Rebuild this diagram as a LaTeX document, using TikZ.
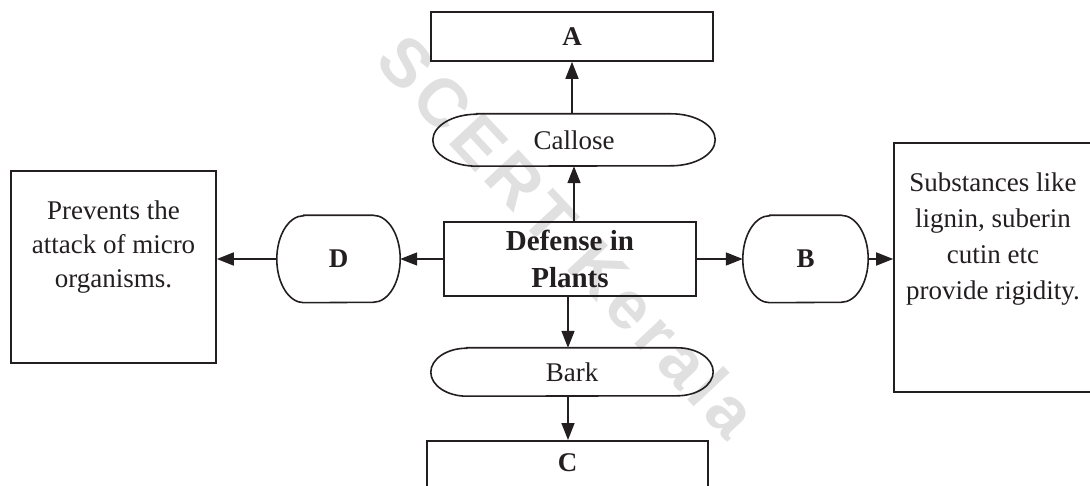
\documentclass[tikz,border=0pt]{standalone}
\usepackage{fontspec}
\setmainfont{Liberation Serif}
\setsansfont{Liberation Sans}
\newfontfamily\wmfont[LetterSpace=9]{Liberation Sans}
\usetikzlibrary{arrows.meta,calc}
\definecolor{ink}{HTML}{231F20}
\newcommand\stadiumpath[3]{%
  \draw[line] ([xshift=#2]#1.north west) -- ([xshift=-#2]#1.north east)
    arc[start angle=90,end angle=-90,x radius=#2,y radius=#3]
    -- ([xshift=#2]#1.south west)
    arc[start angle=270,end angle=90,x radius=#2,y radius=#3] -- cycle;}
\begin{document}
\begin{tikzpicture}[x=1pt,y=-1pt,
  line/.style={draw=ink,line width=1.6pt},
  box/.style={line,rectangle,inner sep=0pt},
  plain/.style={rectangle,inner sep=0pt,text=ink},
  lab/.style={inner sep=0pt,text=ink,align=center,font=\fontsize{27}{34}\selectfont},
  arr/.style={line,-{Triangle[length=17pt,width=13pt]}}]
\useasboundingbox (0,0) rectangle (1090,486);
% watermark
\node[rotate=-47,inner sep=0pt,text=black!12,font=\fontsize{68}{68}\selectfont\wmfont\bfseries] (wm) at (568,236) {SCERT Kerala};
% top
\node[box,minimum width=282pt,minimum height=49pt,lab,font=\fontsize{27}{34}\selectfont\bfseries] (A) at (572,36.5) {A};
\node[plain,lab,minimum width=282pt,minimum height=52pt] (cal) at (574,140) {Callose};
\stadiumpath{cal}{44pt}{26pt}
% center
\node[box,lab,minimum width=252pt,minimum height=74pt,font=\fontsize{29}{37}\selectfont\bfseries] (def) at (570,259) {Defense in\\Plants};
% sides
\node[plain,lab,minimum width=123pt,minimum height=87pt,font=\fontsize{27}{34}\selectfont\bfseries] (D) at (338.5,259) {D};
\stadiumpath{D}{27pt}{43.5pt}
\node[plain,lab,minimum width=125pt,minimum height=87pt,font=\fontsize{27}{34}\selectfont\bfseries] (B) at (805.5,259) {B};
\stadiumpath{B}{27pt}{43.5pt}
\node[box,minimum width=205pt,minimum height=192pt] (L) at (113.5,267) {};
\node[lab] (Lt) at (113.5,247) {Prevents the\\attack of micro\\organisms.};
\node[box,minimum width=200pt,minimum height=249pt] (R) at (994,267.5) {};
\node[lab,font=\fontsize{27}{36}\selectfont] (Rt) at (993,239) {Substances like\\lignin, suberin\\cutin etc\\provide rigidity.};
% bottom
\node[plain,lab,minimum width=282pt,minimum height=48pt] (bark) at (572,372) {Bark};
\stadiumpath{bark}{36pt}{24pt}
\node[box,minimum width=281pt,minimum height=100pt,anchor=north] (C) at (567.5,440) {};
\node[lab,font=\fontsize{27}{34}\selectfont\bfseries] (Ct) at (567.5,463) {C};
% connectors
\draw[arr] (def.north -| cal.south) -- (cal.south);
\draw[arr] (cal.north -| A.south) -- (A.south);
\draw[arr] ([xshift=-2pt]def.south) -- ([xshift=-2pt]def.south |- bark.north);
\draw[arr] ([xshift=-2pt]def.south |- bark.south) -- ([xshift=-2pt]def.south |- C.north);
\draw[arr] (def.west) -- (def.west -| D.east);
\draw[arr] (D.west) -- (D.west -| L.east);
\draw[arr] (def.east) -- (def.east -| B.west);
\draw[arr] (B.east) -- (B.east -| R.west);
\end{tikzpicture}
\end{document}
